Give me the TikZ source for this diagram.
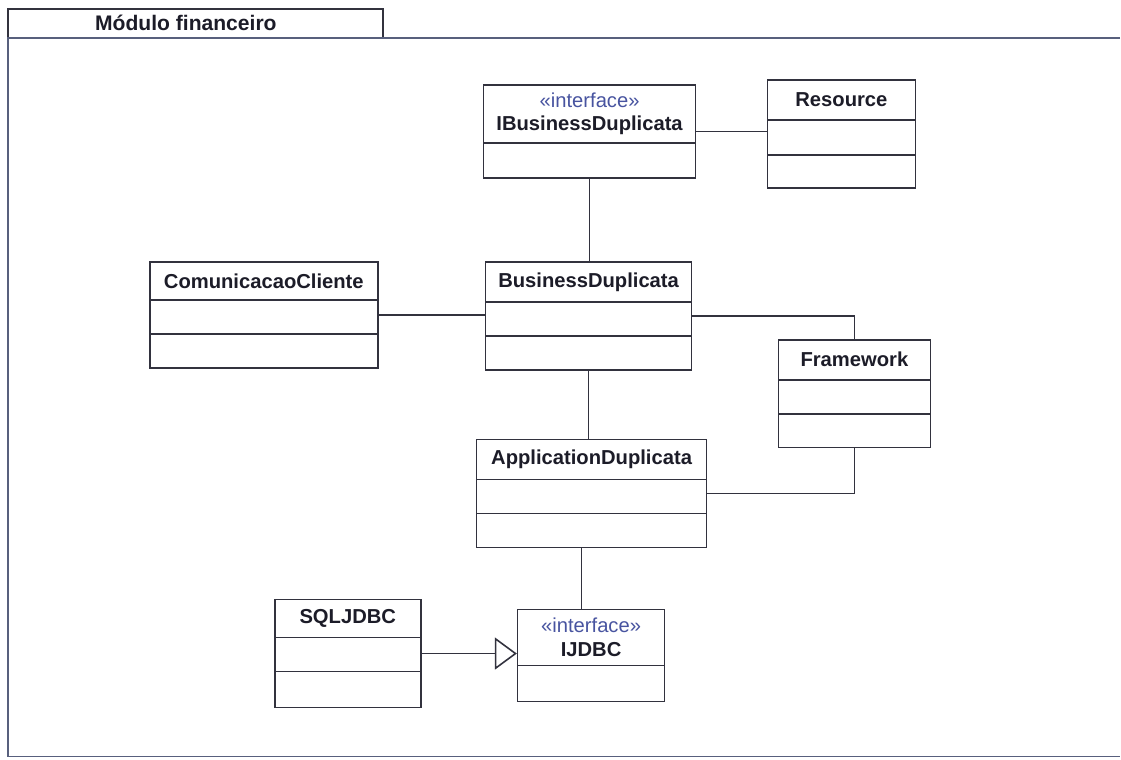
\documentclass[tikz,border=0pt]{standalone}
\usepackage{fontspec}
\setmainfont{Liberation Sans}
\usetikzlibrary{positioning,arrows.meta,calc,fit}
\definecolor{cLine}  {RGB}{ 50, 50, 62}
\definecolor{cText}  {RGB}{ 28, 28, 40}
\definecolor{cStereo}{RGB}{ 72, 84,160}
\definecolor{cFrame} {RGB}{ 88, 96,125}
\tikzset{
  clsbox/.style   = {draw=cLine, line width=0.9pt, inner sep=0pt, fill=white},
  clsline/.style  = {cLine, line width=0.9pt},
  clstitle/.style = {font=\fontsize{11.5}{13.5}\selectfont\bfseries, text=cText,
                     align=center, inner sep=1pt},
  stereo/.style   = {font=\mdseries, text=cStereo},
  assoc/.style    = {cLine, line width=0.9pt},
  realize/.style  = {assoc, -{Triangle[open, length=4.4mm, width=6.4mm, fill=white]}},
  pkgtab/.style   = {draw=cLine, line width=0.9pt, inner sep=0pt},
  pkgname/.style  = {font=\fontsize{12}{14}\selectfont\bfseries, text=cText},
  pkgframe/.style = {cFrame, line width=0.9pt},
}
% #1 name, #2 x1, #3 y1, #4 x2, #5 y2, #6 header bottom, #7 second divider (or empty), #8 title
\newcommand{\umlclass}[8]{%
  \node[clsbox, fit={(#2,#3) (#4,#5)}] (#1) {};
  \draw[clsline] (#2,#6) -- (#4,#6);
  \if\relax\detokenize{#7}\relax\else
    \draw[clsline] (#2,#7) -- (#4,#7);
  \fi
  \node[clstitle] (#1-t) at ({(#2+#4)/2},{(#3+#6)/2}) {#8};}
\newcommand{\iface}[1]{{\stereofont\color{cStereo}«interface»}\\#1}
\newcommand{\stereofont}{\mdseries}

\begin{document}
\begin{tikzpicture}[x=0.02cm, y=-0.02cm]
  \fill[white] (0,0) rectangle (1121,760);

  %% ---------------- package frame ------------------------------------
  \node[pkgtab, fit={(8,9) (383,38)}] (tab) {};
  \node[pkgname] (tabname) at (186,23) {Módulo financeiro};
  \draw[pkgframe] (1121,38) -- (8,38) -- (8,757) -- (1121,757);

  %% ---------------- classes ------------------------------------------
  \umlclass{ibd}{484}{85}{696}{178}{143}{}{\iface{IBusinessDuplicata}}
  \umlclass{res}{768}{80}{916}{188}{120}{155}{Resource}
  \umlclass{cc}{150}{262}{378}{368}{300}{334}{ComunicacaoCliente}
  \umlclass{bd}{486}{262}{692}{370}{302}{336}{BusinessDuplicata}
  \umlclass{fw}{779}{340}{931}{448}{380}{414}{Framework}
  \umlclass{ad}{477}{440}{707}{548}{480}{514}{ApplicationDuplicata}
  \umlclass{sql}{275}{600}{421}{708}{638}{672}{SQLJDBC}
  \umlclass{ij}{518}{610}{665}{702}{666}{}{\iface{IJDBC}}

  %% ---------------- connectors ---------------------------------------
  \draw[assoc] (ibd.east) -- (ibd.east -| res.west);
  \draw[assoc] (ibd.south) -- (ibd.south |- bd.north);
  \draw[assoc] (cc.east) -- (cc.east -| bd.west);
  \draw[assoc] (bd.east) -| (fw.north);
  \draw[assoc] (bd.south) -- (bd.south |- ad.north);
  \draw[assoc] (fw.south) |- (ad.east);
  \draw[assoc] ([xshift=-0.2cm]ad.south) -- ([xshift=-0.2cm]ad.south |- ij.north);
  \draw[realize] (sql.east) -- (sql.east -| ij.west);
\end{tikzpicture}
\end{document}
